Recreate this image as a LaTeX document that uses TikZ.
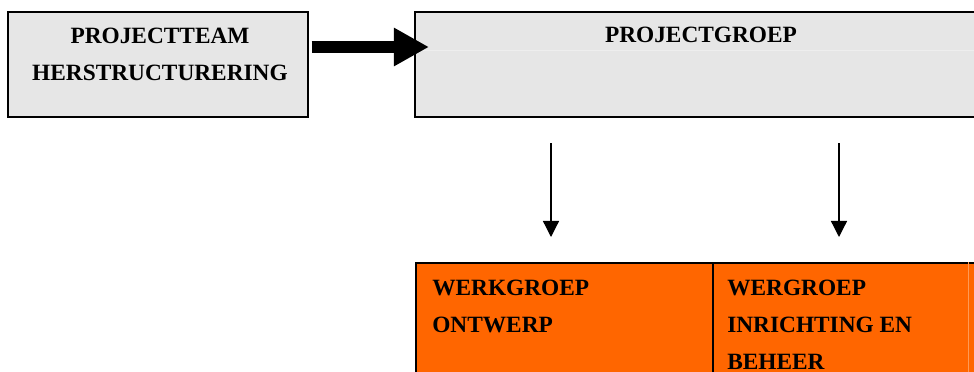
\documentclass[tikz,border=0pt]{standalone}
\usepackage{fontspec}
\setmainfont{Liberation Serif}
\usetikzlibrary{arrows.meta, positioning, calc}
\definecolor{boxgray}{HTML}{E6E6E6}
\definecolor{wgorange}{HTML}{FF6600}
\definecolor{rulegray}{HTML}{EEEEEE}
\definecolor{edgeorange}{HTML}{FF9A55}

\begin{document}
\begin{tikzpicture}[
  x=0.025cm, y=-0.025cm,
  every node/.style={text=black, font=\fontsize{16.6}{26.3}\selectfont\bfseries},
  greybox/.style={draw=black, line width=1.4pt, fill=boxgray, inner sep=0pt,
    minimum height=2.625cm},
  wgcell/.style={draw=black, line width=1.4pt, fill=wgorange, inner sep=0pt,
    minimum height=3.425cm},
  boxtext/.style={inner sep=0pt, align=center, anchor=north},
  celltext/.style={inner sep=0pt, align=left, anchor=north west},
  thinarrow/.style={-{Triangle[length=0.4cm, width=0.4cm]}, line width=0.9pt,
    shorten <=0.625cm, shorten >=0.625cm},
  bigarrow/.style={-{Triangle[length=0.875cm, width=0.9cm]}, line width=0.31cm},
]

% Page
\useasboundingbox (0,0) rectangle (974,371);
\clip (0,0) rectangle (974,371);

% Top row
\node[greybox, minimum width=7.475cm] (team) at (158,64.5) {};
\node[greybox, minimum width=14.625cm] (groep) at (707.5,64.5) {};
\draw[rulegray, line width=0.5pt] (groep.west |- 0,50) -- (groep.east |- 0,50);

\node[boxtext] (teamlbl) at (160,28) {PROJECTTEAM\\HERSTRUCTURERING};
\node[boxtext] (groeplbl) at (701,27) {PROJECTGROEP};

% Werkgroepen
\node[wgcell, minimum width=7.425cm] (ontwerp) at (564.5,331.5) {};
\node[wgcell, minimum width=7.175cm] (beheer) at (856.5,331.5) {};
\draw[edgeorange, line width=0.6pt] ([xshift=6.4cm]beheer.north west) -- ([xshift=6.4cm]beheer.south west);

\node[celltext] (ontwerplbl) at (432,280) {WERKGROEP\\ONTWERP};
\node[celltext] (beheerlbl) at (727,280) {WERGROEP\\INRICHTING EN\\BEHEER};

% Arrows
\draw[bigarrow] ([xshift=0.075cm, yshift=0.4375cm]team.east)
  -- ([xshift=0.375cm, yshift=0.4375cm]groep.west);
\draw[thinarrow] ([xshift=-0.3375cm]ontwerp.north |- groep.south)
  -- ([xshift=-0.3375cm]ontwerp.north);
\draw[thinarrow] ([xshift=-0.4375cm]beheer.north |- groep.south)
  -- ([xshift=-0.4375cm]beheer.north);

\end{tikzpicture}
\end{document}
